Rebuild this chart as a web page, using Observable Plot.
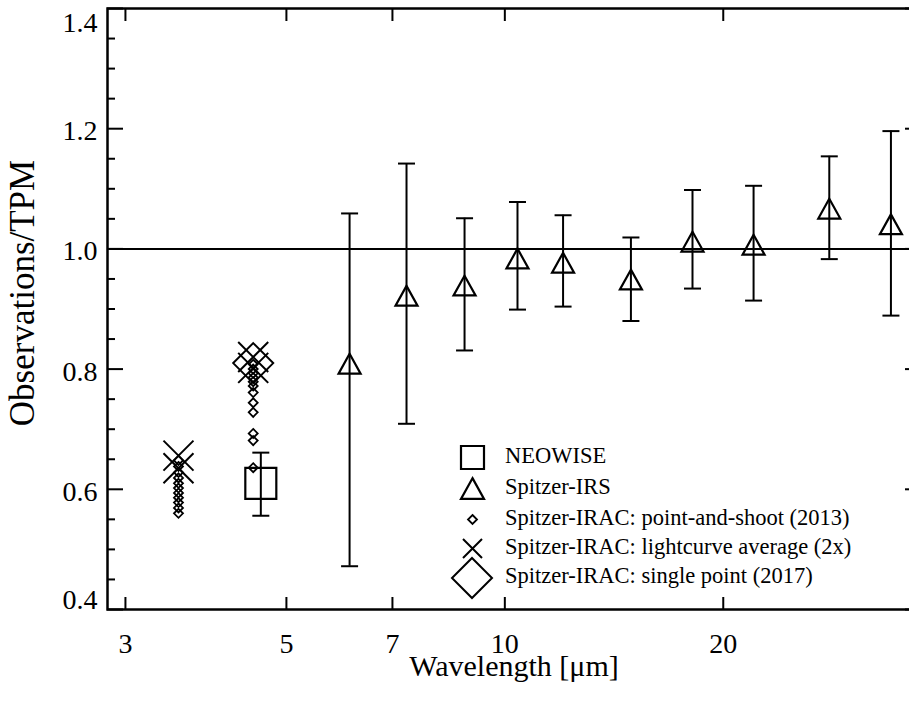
<!DOCTYPE html>
<html><head><meta charset="utf-8">
<script src="https://cdn.jsdelivr.net/npm/d3@7"></script>
<script src="https://cdn.jsdelivr.net/npm/@observablehq/plot@0.6"></script>
<style>
html,body{margin:0;padding:0;background:#fff;overflow:hidden;}
#wrap{position:relative;width:909px;height:703px;overflow:hidden;font-family:"Liberation Serif","Times New Roman",Times,"DejaVu Serif",serif;}
#wrap svg{max-width:none !important;}
#legend{position:absolute;left:0;top:0;width:909px;height:703px;pointer-events:none;}
.lab{position:absolute;left:505px;font-size:22.5px;line-height:1;white-space:nowrap;transform:translateY(-52%);color:#000;}
.sym{position:absolute;overflow:visible;}
</style></head><body><div id="wrap"></div>
<script>
// ---------------- data ----------------
// Spitzer-IRS (wavelength in micron, ratio, lower, upper)
const irsWave  = [6.11, 7.32, 8.80, 10.41, 12.03, 14.92, 18.14, 22.02, 28.0, 34.05];
const irsRatio = [0.809, 0.922, 0.939, 0.984, 0.977, 0.949, 1.012, 1.007, 1.067, 1.041];
const irsLow   = [0.472, 0.709, 0.831, 0.899, 0.904, 0.880, 0.934, 0.914, 0.983, 0.889];
const irsHigh  = [1.059, 1.142, 1.051, 1.078, 1.056, 1.019, 1.098, 1.105, 1.154, 1.196];
// NEOWISE
const neoWave  = [4.61];
const neoRatio = [0.610];
const neoLow   = [0.556];
const neoHigh  = [0.661];
// Spitzer-IRAC channels
const iracCh1 = 3.55;
const iracCh2 = 4.50;
const psCh1 = [0.648, 0.638, 0.628, 0.619, 0.610, 0.602, 0.594, 0.586, 0.578, 0.569, 0.560];
const psCh2 = [0.808, 0.800, 0.793, 0.786, 0.779, 0.772, 0.761, 0.744, 0.728, 0.693, 0.681, 0.636];
const lcCh1 = [0.656, 0.635];
const lcCh2 = [0.820, 0.802];
const spCh2 = [0.810];
// axes
const xTicks = [3, 5, 7, 10, 20];
const yMajor = [0.4, 0.6, 0.8, 1.0, 1.2, 1.4];
const yMinor = [0.45, 0.5, 0.55, 0.65, 0.7, 0.75, 0.85, 0.9, 0.95, 1.05, 1.1, 1.15, 1.25, 1.3, 1.35];
const yLabelsMid = [0.6, 0.8, 1.0, 1.2];
const yLabelLow = [0.4];
const yLabelTop = [1.4];
const refLine = [1.0];
const xTitle = "Wavelength [μm]";
const yTitle = "Observations/TPM";
const legendLabels = ["NEOWISE", "Spitzer-IRS", "Spitzer-IRAC: point-and-shoot (2013)",
  "Spitzer-IRAC: lightcurve average (2x)", "Spitzer-IRAC: single point (2017)"];

// ---------------- symbols ----------------
const mk = f => ({draw(c, size) { f(c, Math.sqrt(size / Math.PI)); }});
const triF = (c, r) => { c.moveTo(0, -r * 0.9); c.lineTo(r, r * 0.9); c.lineTo(-r, r * 0.9); c.closePath(); };
const sqF = (c, r) => { c.moveTo(-r, -r); c.lineTo(r, -r); c.lineTo(r, r); c.lineTo(-r, r); c.closePath(); };
const diaF = (c, r) => { c.moveTo(0, -r); c.lineTo(r, 0); c.lineTo(0, r); c.lineTo(-r, 0); c.closePath(); };
const xF = (c, r) => { c.moveTo(-r, -r); c.lineTo(r, r); c.moveTo(-r, r); c.lineTo(r, -r); };
const capF = (c, r) => { c.moveTo(-r, 0); c.lineTo(r, 0); };
const TRI = mk(triF), SQ = mk(sqF), DIA = mk(diaF), XS = mk(xF), CAP = mk(capF);

const irs = irsWave.map((w, i) => ({w, v: irsRatio[i], lo: irsLow[i], hi: irsHigh[i]}));
const neo = neoWave.map((w, i) => ({w, v: neoRatio[i], lo: neoLow[i], hi: neoHigh[i]}));
const ps = [...psCh1.map(v => ({w: iracCh1, v})), ...psCh2.map(v => ({w: iracCh2, v}))];
const lc = [...lcCh1.map(v => ({w: iracCh1, v})), ...lcCh2.map(v => ({w: iracCh2, v}))];
const sp = spCh2.map(v => ({w: iracCh2, v}));

const font = '"Liberation Serif", "Times New Roman", Times, "DejaVu Serif", serif';
const fmt = d3.format(".1f");
const chart = Plot.plot({
  width: 925, height: 703,
  marginLeft: 107, marginRight: 5, marginTop: 8, marginBottom: 94,
  style: {fontFamily: font, background: "white", color: "black", overflow: "visible", maxWidth: "none"},
  x: {type: "log", domain: [2.834, 37.4]},
  y: {domain: [0.4, 1.4]},
  marks: [
    Plot.ruleY(refLine, {y: d => d, stroke: "black", strokeWidth: 2}),
    // error bars
    Plot.ruleX(irs, {x: "w", y1: "lo", y2: "hi", stroke: "black", strokeWidth: 2}),
    Plot.dot(irs, {x: "w", y: "lo", symbol: CAP, r: 8.5, stroke: "black", strokeWidth: 2}),
    Plot.dot(irs, {x: "w", y: "hi", symbol: CAP, r: 8.5, stroke: "black", strokeWidth: 2}),
    Plot.ruleX(neo, {x: "w", y1: "lo", y2: "hi", stroke: "black", strokeWidth: 2}),
    Plot.dot(neo, {x: "w", y: "lo", symbol: CAP, r: 8.5, stroke: "black", strokeWidth: 2}),
    Plot.dot(neo, {x: "w", y: "hi", symbol: CAP, r: 8.5, stroke: "black", strokeWidth: 2}),
    // symbols
    Plot.dot(irs, {x: "w", y: "v", symbol: TRI, r: 11, stroke: "black", fill: "none", strokeWidth: 2.2}),
    Plot.dot(neo, {x: "w", y: "v", symbol: SQ, r: 15.5, stroke: "black", fill: "none", strokeWidth: 2.2}),
    Plot.dot(ps, {x: "w", y: "v", symbol: DIA, r: 4.5, stroke: "black", fill: "none", strokeWidth: 1.8}),
    Plot.dot(lc, {x: "w", y: "v", symbol: XS, r: 15, stroke: "black", fill: "none", strokeWidth: 2}),
    Plot.dot(sp, {x: "w", y: "v", symbol: DIA, r: 20, stroke: "black", fill: "none", strokeWidth: 2}),
    // frame and ticks (inward)
    Plot.frame({stroke: "black", strokeWidth: 2.5}),
    Plot.axisX(xTicks, {anchor: "bottom", tickSize: -12, strokeWidth: 2, tickFormat: () => "", label: null}),
    Plot.axisX(xTicks, {anchor: "top", tickSize: -12, strokeWidth: 2, tickFormat: () => "", label: null}),
    Plot.axisY(yMajor, {anchor: "left", tickSize: -16, strokeWidth: 2, tickFormat: () => "", label: null}),
    Plot.axisY(yMajor, {anchor: "right", tickSize: -16, strokeWidth: 2, tickFormat: () => "", label: null}),
    Plot.axisY(yMinor, {anchor: "left", tickSize: -8, strokeWidth: 2, tickFormat: () => "", label: null}),
    Plot.axisY(yMinor, {anchor: "right", tickSize: -8, strokeWidth: 2, tickFormat: () => "", label: null}),
    // tick labels
    Plot.text(xTicks, {x: d => d, text: d => String(d), frameAnchor: "bottom", lineAnchor: "middle", textAnchor: "middle", dy: 35, fontSize: 28, fontFamily: font, fill: "black"}),
    Plot.text(yLabelsMid, {y: d => d, text: fmt, frameAnchor: "left", lineAnchor: "middle", textAnchor: "end", dx: -10, dy: 2.5, fontSize: 28, fontFamily: font, fill: "black"}),
    Plot.text(yLabelLow, {y: d => d, text: fmt, frameAnchor: "left", lineAnchor: "middle", textAnchor: "end", dx: -10, dy: -9, fontSize: 28, fontFamily: font, fill: "black"}),
    Plot.text(yLabelTop, {y: d => d, text: fmt, frameAnchor: "left", lineAnchor: "middle", textAnchor: "end", dx: -10, dy: 15, fontSize: 28, fontFamily: font, fill: "black"}),
    // axis titles
    Plot.text([xTitle], {frameAnchor: "bottom", lineAnchor: "middle", textAnchor: "middle", dy: 57, fontSize: 30, fontFamily: font, fill: "black"}),
    Plot.text([yTitle], {frameAnchor: "left", lineAnchor: "middle", textAnchor: "middle", rotate: -90, dx: -85, dy: -16, fontSize: 35, fontFamily: font, fill: "black"})
  ]
});
const wrap = document.getElementById("wrap");
wrap.appendChild(chart);

// ---------------- legend ----------------
const legendSyms = [
  {f: sqF, r: 11.5, sw: 2.2}, {f: triF, r: 11.5, sw: 2.2}, {f: diaF, r: 4.5, sw: 1.8},
  {f: xF, r: 9.5, sw: 2}, {f: diaF, r: 20, sw: 2}
];
const rowY = [457, 488, 519, 548, 577];
const legend = document.createElement("div");
legend.id = "legend";
legendLabels.forEach((t, i) => {
  const s = legendSyms[i];
  const p = d3.path(); s.f(p, s.r);
  const size = 2 * s.r + 6;
  const svg = d3.create("svg").attr("class", "sym").attr("width", size).attr("height", size)
    .style("left", (472 - size / 2) + "px").style("top", (rowY[i] - size / 2 + (i === 4 ? 1 : 0)) + "px");
  svg.append("path").attr("transform", `translate(${size / 2},${size / 2})`).attr("d", p.toString())
    .attr("fill", "none").attr("stroke", "black").attr("stroke-width", s.sw);
  legend.appendChild(svg.node());
  const lab = document.createElement("div");
  lab.className = "lab"; lab.textContent = t; lab.style.top = rowY[i] + "px";
  legend.appendChild(lab);
});
wrap.appendChild(legend);
</script>
</body></html>
